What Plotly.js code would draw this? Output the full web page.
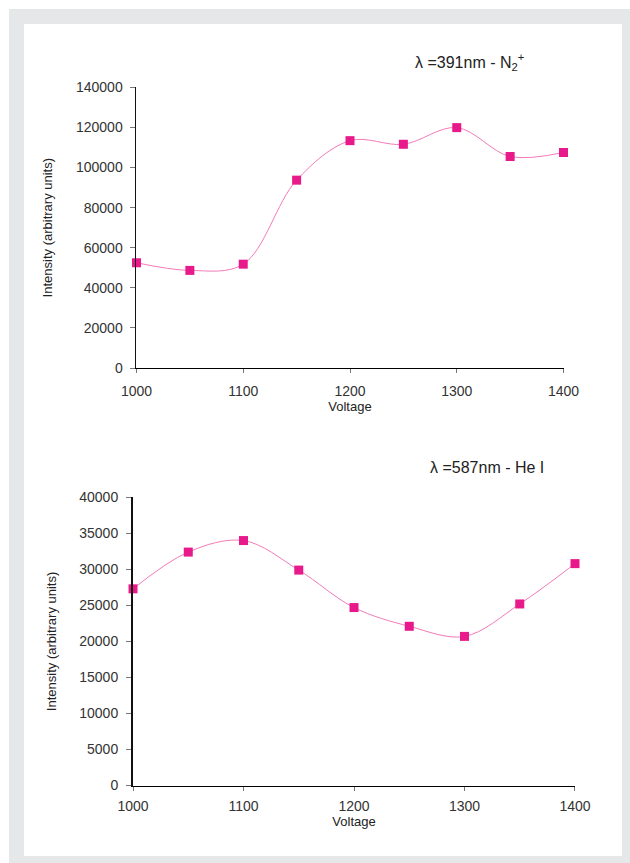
<!DOCTYPE html>
<html>
<head>
<meta charset="utf-8">
<script src="https://cdn.plot.ly/plotly-3.0.1.min.js"></script>
<style>
  html, body { margin: 0; padding: 0; background: #ffffff; width: 630px; height: 863px; overflow: hidden; }
  #frame { position: absolute; left: 9px; top: 9px; width: 621px; height: 854px; background: #e6e7e9; }
  #chart { position: absolute; left: 24px; top: 24px; width: 598px; height: 832px; background: #ffffff; }
</style>
</head>
<body>
<div id="frame"></div>
<div id="chart"></div>
<script>
// Data
const voltage = [1000, 1050, 1100, 1150, 1200, 1250, 1300, 1350, 1400];
const intensityN2 = [52500, 48700, 51800, 93700, 113400, 111600, 119900, 105500, 107500];
const intensityHe = [27300, 32400, 34000, 29900, 24700, 22100, 20700, 25200, 30800];
const xTicks = [1000, 1100, 1200, 1300, 1400];
const yTicksTop = [0, 20000, 40000, 60000, 80000, 100000, 120000, 140000];
const yTicksBottom = [0, 5000, 10000, 15000, 20000, 25000, 30000, 35000, 40000];
const titleTop = "λ =391nm - N<sub>2</sub><sup>+</sup>";
const titleBottom = "λ =587nm - He I";

const FONT = "Liberation Sans, Arial, Helvetica, sans-serif";
const markerColor = "#e8198b";
const lineColor = "#f27ab8";

function trace(x, y, xa, ya) {
  return {
    x: x, y: y, xaxis: xa, yaxis: ya,
    type: "scatter", mode: "lines+markers",
    line: { shape: "spline", smoothing: 1, color: lineColor, width: 1 },
    marker: { symbol: "square", size: 9, color: markerColor },
    cliponaxis: false, showlegend: false, hoverinfo: "skip"
  };
}

function xaxisDef(domain, anchor, standoff) {
  return {
    domain: domain, anchor: anchor, range: [1000, 1400],
    tickvals: xTicks, ticktext: xTicks.map(String),
    showgrid: false, zeroline: false, showline: true, linecolor: "#000", linewidth: 1,
    ticks: "outside", ticklen: 4, tickcolor: "#777", tickwidth: 1,
    ticklabelstandoff: standoff,
    tickfont: { family: FONT, size: 14, color: "#333" },
    title: { text: "Voltage", font: { family: FONT, size: 13, color: "#222" }, standoff: 1 },
    fixedrange: true
  };
}
function yaxisDef(domain, anchor, ticks, maxv, lw) {
  return {
    domain: domain, anchor: anchor, range: [0, maxv],
    tickvals: ticks, ticktext: ticks.map(String),
    showgrid: false, zeroline: false, showline: true, linecolor: "#111", linewidth: lw,
    ticks: "outside", ticklen: 5, tickcolor: "#777", tickwidth: 1,
    ticklabelstandoff: 5,
    tickfont: { family: FONT, size: 14, color: "#333" },
    title: { text: "Intensity (arbitrary units)", font: { family: FONT, size: 13, color: "#222" }, standoff: 20 },
    fixedrange: true
  };
}

const data = [
  trace(voltage, intensityN2, "x", "y"),
  trace(voltage, intensityHe, "x2", "y2")
];

const layout = {
  width: 598, height: 832,
  margin: { l: 0, r: 0, t: 0, b: 0 },
  paper_bgcolor: "#ffffff", plot_bgcolor: "#ffffff",
  font: { family: FONT },
  xaxis: xaxisDef([0.1881, 0.9022], "y", 6),
  yaxis: yaxisDef([0.5865, 0.9239], "x", yTicksTop, 140000, 1),
  xaxis2: xaxisDef([0.1823, 0.9214], "y2", 4),
  yaxis2: yaxisDef([0.0847, 0.4311], "x2", yTicksBottom, 40000, 2),
  annotations: [
    { text: titleTop, xref: "paper", yref: "paper", x: (470 - 24) / 598, y: 1 - (62 - 24) / 832,
      xanchor: "center", yanchor: "middle", showarrow: false,
      font: { family: FONT, size: 16, color: "#222" } },
    { text: titleBottom, xref: "paper", yref: "paper", x: (487 - 24) / 598, y: 1 - (467 - 24) / 832,
      xanchor: "center", yanchor: "middle", showarrow: false,
      font: { family: FONT, size: 16, color: "#222" } }
  ]
};

Plotly.newPlot("chart", data, layout, { staticPlot: true, displayModeBar: false });
</script>
</body>
</html>
